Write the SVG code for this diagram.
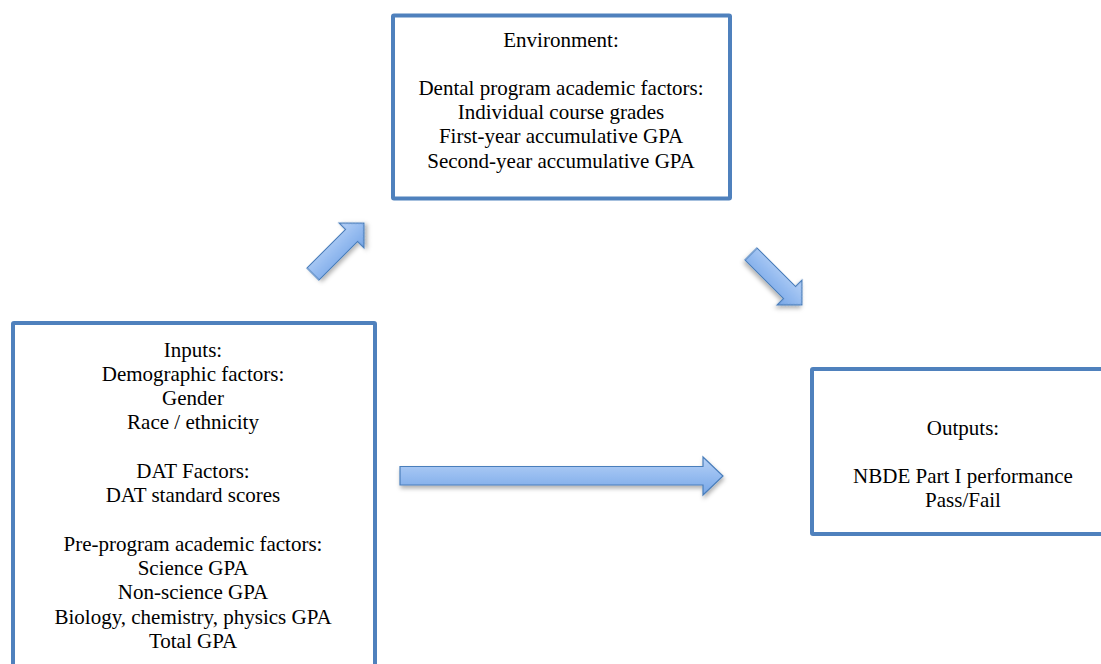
<svg xmlns="http://www.w3.org/2000/svg" width="1101" height="664" viewBox="0 0 1101 664">
  <defs>
    <linearGradient id="ag" x1="0" y1="0" x2="0" y2="1">
      <stop offset="0" stop-color="#b7d1f6"/>
      <stop offset="0.5" stop-color="#96bcf0"/>
      <stop offset="1" stop-color="#77a6e6"/>
    </linearGradient>
    <filter id="sh" x="-20%" y="-20%" width="150%" height="160%">
      <feDropShadow dx="1" dy="3" stdDeviation="2" flood-color="#000" flood-opacity="0.3"/>
    </filter>
  </defs>
  <style>
    .box { fill: #ffffff; stroke: #4f81bd; stroke-width: 4; }
    .arrow { fill: url(#ag); stroke: #4a7ebb; stroke-width: 1.2; filter: url(#sh); }
    text { font-family: "Liberation Serif", "Times New Roman", serif; font-size: 21px; fill: #000; text-anchor: middle; }
  </style>
  <rect width="1101" height="664" fill="#ffffff"/>

  <g id="environment">
    <rect class="box" x="393" y="15.5" width="337" height="183" rx="1"/>
    <text x="561" y="47">Environment:</text>
    <text x="561" y="95">Dental program academic factors:</text>
    <text x="561" y="119">Individual course grades</text>
    <text x="561" y="143">First-year accumulative GPA</text>
    <text x="561" y="168">Second-year accumulative GPA</text>
  </g>

  <g id="inputs">
    <rect class="box" x="13" y="323" width="362" height="360" rx="1"/>
    <text x="193" y="357">Inputs:</text>
    <text x="193" y="381">Demographic factors:</text>
    <text x="193" y="405">Gender</text>
    <text x="193" y="429">Race / ethnicity</text>
    <text x="193" y="478">DAT Factors:</text>
    <text x="193" y="502">DAT standard scores</text>
    <text x="193" y="551">Pre-program academic factors:</text>
    <text x="193" y="575">Science GPA</text>
    <text x="193" y="599">Non-science GPA</text>
    <text x="193" y="624">Biology, chemistry, physics GPA</text>
    <text x="193" y="648">Total GPA</text>
  </g>

  <g id="outputs">
    <rect class="box" x="812" y="369" width="300" height="165" rx="1"/>
    <text x="963" y="435">Outputs:</text>
    <text x="963" y="483">NBDE Part I performance</text>
    <text x="963" y="507">Pass/Fail</text>
  </g>

  <g id="connectors">
    <path class="arrow" transform="translate(313,274) rotate(-45)" d="M0,-8.5 L54.5,-8.5 L54.5,-17.5 L72,0 L54.5,17.5 L54.5,8.5 L0,8.5 Z"/>
    <path class="arrow" transform="translate(751,254) rotate(45)" d="M0,-8.5 L54.5,-8.5 L54.5,-17.5 L72,0 L54.5,17.5 L54.5,8.5 L0,8.5 Z"/>
    <path class="arrow" d="M400,466.5 L703,466.5 L703,457 L723,476 L703,495 L703,485 L400,485 Z"/>
  </g>
</svg>
